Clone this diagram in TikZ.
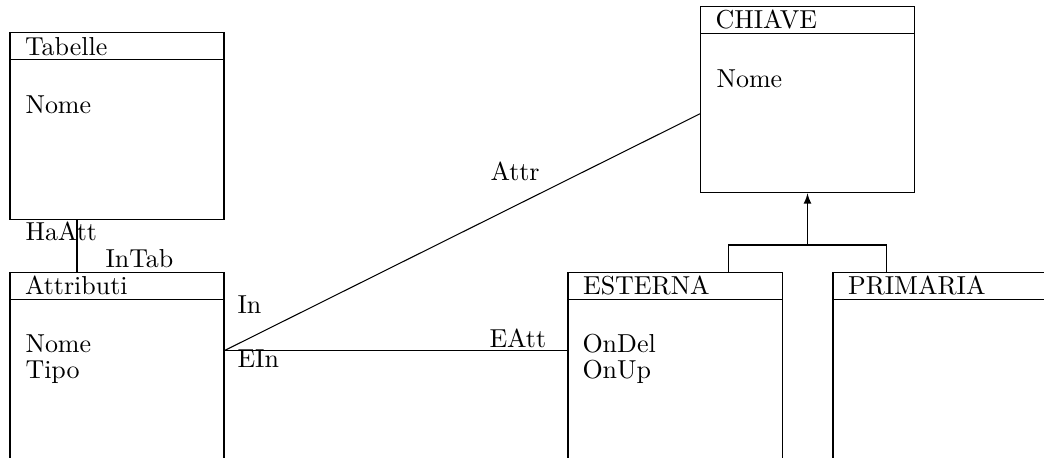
\documentclass[tikz,border=0pt]{standalone}
\usepackage{amsmath, amsfonts, amssymb}
\usepackage{tikz}
\usetikzlibrary{positioning, arrows}

\tikzset{
    corpo/.style={draw, rectangle, inner sep=0pt, minimum width=82.4pt},
    titolo/.style={draw, rectangle, inner xsep=5.8pt, inner ysep=0pt,
        text width=70.8pt, align=left, minimum height=10.4pt,
        text height=6.94pt, text depth=0pt},
    campo/.style={anchor=base west, inner sep=0pt},
    ruolo/.style={anchor=base west, inner sep=0pt}
}

\begin{document}
\begin{tikzpicture}[x=0.385pt, y=-0.385pt]
        \useasboundingbox (0,0) rectangle (1044,457);
        % classi
        \node[corpo, minimum height=71.8pt] (tabelle) at (117,126) {};
        \node[titolo, below=0pt of tabelle.north] (tabelleT) {Tabelle};
        \node[campo] (tabelleNome) at (25,113) {Nome};

        \node[corpo, minimum height=96.2pt] (attributi) at (117,397) {};
        \node[titolo, below=0pt of attributi.north] (attributiT) {Attributi};
        \node[campo] (attributiNome) at (25,352) {Nome};
        \node[campo] (attributiTipo) at (25,378) {Tipo};

        \node[corpo, minimum height=71.8pt] (chiave) at (807.5,99.5) {};
        \node[titolo, below=0pt of chiave.north] (chiaveT) {CHIAVE};
        \node[campo] (chiaveNome) at (716,87) {Nome};

        \node[corpo, minimum height=96.2pt] (esterna) at (675,397) {};
        \node[titolo, below=0pt of esterna.north] (esternaT) {ESTERNA};
        \node[campo] (esternaDel) at (582,352) {OnDel};
        \node[campo] (esternaUp) at (582,378) {OnUp};

        \node[corpo, minimum height=96.2pt] (primaria) at (940,397) {};
        \node[titolo, below=0pt of primaria.north] (primariaT) {PRIMARIA};

        % associazioni
        \draw ([xshift=-15.4pt]tabelle.south) -- ([xshift=-15.4pt]attributiT.north);
        \node[ruolo] (haAtt) at (25,240) {HaAtt};
        \node[ruolo] (inTab) at (105,267) {InTab};

        \draw ([yshift=-30.4pt]attributi.north east) -- ([yshift=-41.6pt]chiave.north west);
        \node[ruolo] (attr) at (490,180) {Attr};
        \node[ruolo] (in) at (237,313) {In};

        \draw ([yshift=-30.4pt]attributi.north east) -- ([yshift=-30.4pt]esterna.north west);
        \node[ruolo] (eAtt) at (489,347) {EAtt};
        \node[ruolo] (eIn) at (237,367) {EIn};

        % generalizzazione
        \coordinate (snodo) at (807.5,245);
        \draw ([xshift=20.6pt]esterna.north) |- (snodo) -| ([xshift=20.8pt]primaria.north west);
        \draw[-latex] (snodo) -- (chiave.south);
    \end{tikzpicture}
\end{document}
